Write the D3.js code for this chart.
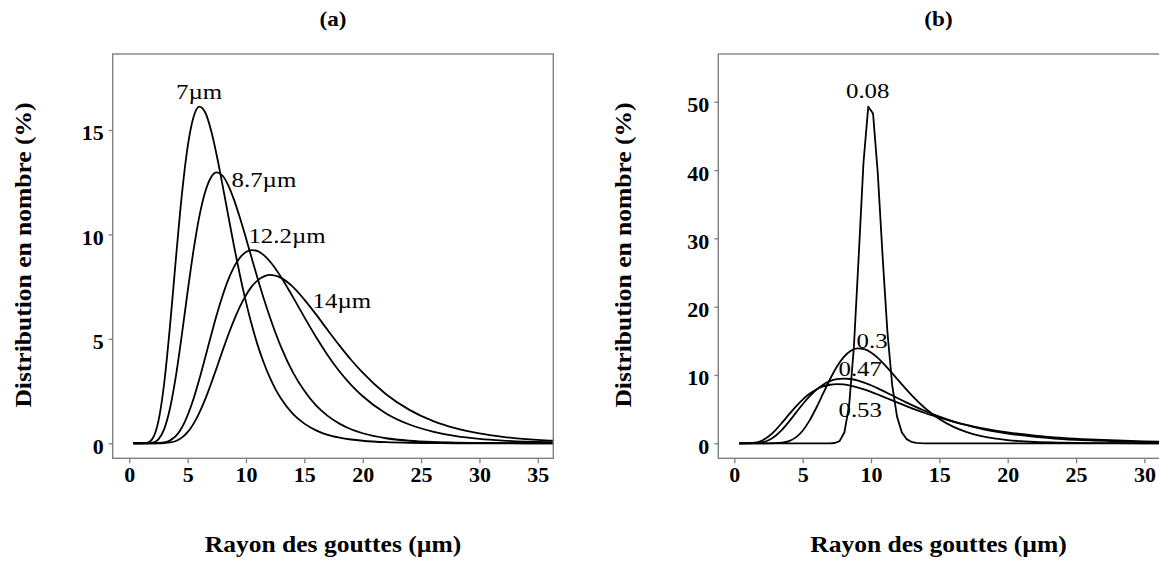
<!DOCTYPE html>
<html><head><meta charset="utf-8">
<script src="https://cdn.jsdelivr.net/npm/d3@7"></script>
<style>body{margin:0;background:#fff} svg{display:block}</style>
</head><body>
<svg id="chart" width="1159" height="563"></svg>
<script>
// ---------- DATA ----------
// Panel (a): drop radius (µm) and number distribution (%) for four mean radii
const radiusA = [0.35,1,1.5,2,2.5,3,3.5,4,4.5,5,5.5,6,6.5,7,7.5,8,8.5,9,9.5,10,10.5,11,11.5,12,12.5,13,14,15,16,17,18,19,20,22,24,26,28,30,32,34,36,38];
const distA7   = [0,0,0.02,0.23,1.07,2.91,5.68,8.87,11.87,14.19,15.61,16.12,15.85,15.00,13.77,12.34,10.84,9.37,8.00,6.76,5.66,4.70,3.89,3.20,2.62,2.14,1.42,0.94,0.62,0.40,0.27,0.18,0.12,0.05,0.02,0.01,0,0,0,0,0,0];
const distA87  = [0,0,0,0.03,0.19,0.69,1.70,3.24,5.18,7.26,9.22,10.85,12.03,12.73,12.97,12.81,12.33,11.62,10.76,9.82,8.85,7.89,6.97,6.12,5.33,4.62,3.42,2.51,1.81,1.31,0.94,0.67,0.48,0.24,0.12,0.06,0.03,0.02,0.01,0,0,0];
const distA122 = [0,0,0,0,0.01,0.04,0.14,0.35,0.74,1.34,2.12,3.06,4.09,5.15,6.17,7.08,7.86,8.47,8.90,9.16,9.25,9.20,9.02,8.74,8.38,7.96,7.02,6.04,5.09,4.22,3.45,2.80,2.25,1.43,0.90,0.56,0.34,0.21,0.13,0.08,0.05,0.03];
const distA14  = [0,0,0,0,0,0.01,0.04,0.11,0.27,0.53,0.93,1.46,2.10,2.84,3.63,4.44,5.22,5.93,6.57,7.09,7.51,7.80,7.98,8.06,8.03,7.92,7.50,6.88,6.17,5.42,4.69,4.00,3.38,2.35,1.60,1.07,0.71,0.47,0.31,0.20,0.13,0.09];
const labelsA  = ["7µm","8.7µm","12.2µm","14µm"];
const labelPosA = [[4.0,16.48],[8.76,12.29],[10.21,9.59],[15.70,6.48]];

// Panel (b): distributions for four width parameters
const radiusB = [0.35,1,1.5,2,2.5,3,3.5,4,4.5,5,5.5,6,6.5,7,7.5,8,8.5,9,9.5,10,10.5,11,11.5,12,12.5,13,14,15,16,17,18,19,20,22,24,26,28,30,32];
const distB03  = [0,0,0,0,0,0.01,0.08,0.31,0.86,1.84,3.32,5.20,7.30,9.37,11.20,12.61,13.51,13.89,13.79,13.30,12.50,11.49,10.37,9.21,8.07,6.98,5.06,3.56,2.44,1.64,1.08,0.71,0.46,0.19,0.08,0.03,0.01,0,0];
const distB047 = [0,0,0.02,0.12,0.44,1.06,2.00,3.17,4.45,5.72,6.87,7.84,8.58,9.09,9.38,9.48,9.41,9.20,8.88,8.49,8.04,7.56,7.06,6.56,6.07,5.59,4.69,3.90,3.22,2.64,2.16,1.76,1.43,0.94,0.62,0.41,0.28,0.18,0.12];
const distB053 = [0,0.01,0.08,0.37,0.98,1.90,3.02,4.22,5.38,6.40,7.24,7.88,8.32,8.57,8.66,8.61,8.45,8.20,7.89,7.53,7.14,6.73,6.32,5.91,5.51,5.12,4.40,3.74,3.18,2.68,2.26,1.90,1.60,1.13,0.80,0.57,0.41,0.29,0.21];
const radiusNarrow = [0.35,7.0,7.35,7.7,8.05,8.4,8.75,9.1,9.45,9.8,10.15,10.5,10.85,11.2,11.55,11.9,12.25,12.6,12.95,13.3,13.65,14.0,32];
const distB008 = [0,0,0.04,0.31,1.57,5.52,14.15,27.35,41.10,49.29,48.29,39.43,27.33,16.32,8.53,3.94,1.63,0.61,0.21,0.07,0.02,0,0];
const labelsB  = ["0.08","0.3","0.47","0.53"];
const labelPosB = [[8.17,50.56],[8.94,13.95],[7.62,9.78],[7.62,3.92]];

const ticksAX = [0,5,10,15,20,25,30,35];
const ticksAY = [0,5,10,15];
const ticksBX = [0,5,10,15,20,25,30];
const ticksBY = [0,10,20,30,40,50];
const panelTitles = ["(a)","(b)"];
const xTitle = "Rayon des gouttes (µm)";
const yTitle = "Distribution en nombre (%)";

// ---------- DRAW ----------
const svg = d3.select("#chart");
const SERIF = "'Liberation Serif','Times New Roman',Times,serif";

function stretch(sel, f){
  sel.each(function(){
    const w = this.getComputedTextLength();
    d3.select(this).attr("textLength", w*f).attr("lengthAdjust","spacingAndGlyphs");
  });
}

function panel(cfg){
  const {x0,x1,y0,y1} = cfg.box;
  const x = d3.scaleLinear().domain(cfg.xDomain).range([x0,x1]);
  const y = d3.scaleLinear().domain(cfg.yDomain).range([y1,y0]);
  const g = svg.append("g");

  const clipId = "clip"+cfg.id;
  svg.append("defs").append("clipPath").attr("id",clipId)
    .append("rect").attr("x",x0).attr("y",y0).attr("width",x1-x0).attr("height",y1-y0);

  // curves
  const cg = g.append("g").attr("clip-path","url(#"+clipId+")");
  cfg.series.forEach(s=>{
    const pts = s.xs.map((r,i)=>[r,s.ys[i]]);
    const line = d3.line().x(d=>x(d[0])).y(d=>y(d[1])).curve(s.curve);
    cg.append("path").attr("d",line(pts)).attr("fill","none")
      .attr("stroke","#000").attr("stroke-width",1.8).attr("stroke-linejoin","round");
  });

  // frame
  g.append("rect").attr("x",x0).attr("y",y0).attr("width",x1-x0).attr("height",y1-y0)
    .attr("fill","none").attr("stroke","#808080").attr("stroke-width",1.4);

  // axes
  const ax = g.append("g").attr("transform",`translate(0,${y1})`)
    .call(d3.axisBottom(x).tickValues(cfg.xticks).tickSize(5).tickPadding(3).tickFormat(d3.format("d")));
  const ay = g.append("g").attr("transform",`translate(${x0},0)`)
    .call(d3.axisLeft(y).tickValues(cfg.yticks).tickSize(4).tickPadding(5).tickFormat(d3.format("d")));
  [ax,ay].forEach(a=>{
    a.select(".domain").remove();
    a.selectAll(".tick line").attr("stroke","#808080").attr("stroke-width",1.3);
    a.selectAll("text").attr("font-family",SERIF).attr("font-weight","bold")
      .attr("font-size",22).attr("fill","#000");
  });
  ay.selectAll("text").attr("dy","0.45em");

  // curve labels
  cfg.labels.forEach((t,i)=>{
    const p = cfg.labelPos[i];
    g.append("text").attr("x",x(p[0])).attr("y",y(p[1])).text(t)
      .attr("font-family",SERIF).attr("font-size",22).attr("fill","#000")
      .call(stretch,1.13);
  });

  const cx = (x0 + Math.min(x1,1159.5+ (x1-1159.5)))/2;
  // panel title
  g.append("text").attr("x",cfg.titleX).attr("y",26).attr("text-anchor","middle")
    .attr("font-family",SERIF).attr("font-weight","bold").attr("font-size",21).text(cfg.title)
    .call(stretch,1.1);
  // x title
  g.append("text").attr("x",cfg.titleX).attr("y",552).attr("text-anchor","middle")
    .attr("font-family",SERIF).attr("font-weight","bold").attr("font-size",23).text(xTitle)
    .call(stretch,1.11);
  // y title
  g.append("text").attr("transform",`translate(${cfg.yTitleX},255) rotate(-90)`)
    .attr("text-anchor","middle")
    .attr("font-family",SERIF).attr("font-weight","bold").attr("font-size",23).text(yTitle)
    .call(stretch,1.11);
}

panel({
  id:"A", box:{x0:112.7,x1:553.3,y0:54,y1:458.3},
  xDomain:[-1.42,36.33], yDomain:[-0.72,18.64],
  xticks:ticksAX, yticks:ticksAY,
  series:[
    {xs:radiusA, ys:distA7, curve:d3.curveMonotoneX},
    {xs:radiusA, ys:distA87, curve:d3.curveMonotoneX},
    {xs:radiusA, ys:distA122, curve:d3.curveMonotoneX},
    {xs:radiusA, ys:distA14, curve:d3.curveMonotoneX}
  ],
  labels:labelsA, labelPos:labelPosA,
  title:panelTitles[0], titleX:333, yTitleX:31
});

panel({
  id:"B", box:{x0:718.3,x1:1160,y0:54,y1:458.3},
  xDomain:[-1.17,31.14], yDomain:[-2.2,57.0],
  xticks:ticksBX, yticks:ticksBY,
  series:[
    {xs:radiusNarrow, ys:distB008, curve:d3.curveLinear},
    {xs:radiusB, ys:distB03, curve:d3.curveMonotoneX},
    {xs:radiusB, ys:distB047, curve:d3.curveMonotoneX},
    {xs:radiusB, ys:distB053, curve:d3.curveMonotoneX}
  ],
  labels:labelsB, labelPos:labelPosB,
  title:panelTitles[1], titleX:938.5, yTitleX:631
});
</script>
</body></html>
